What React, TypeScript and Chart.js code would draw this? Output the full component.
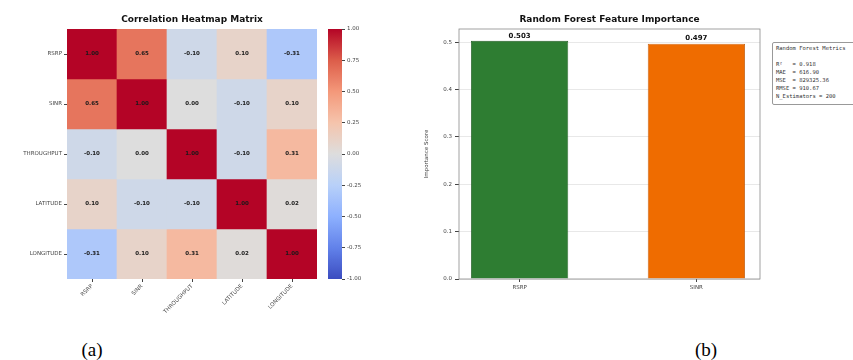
import React, { useEffect, useRef } from "react";
import { Chart, registerables } from "chart.js";
Chart.register(...registerables);

// ---------- DATA ----------
const features = ["RSRP", "SINR", "THROUGHPUT", "LATITUDE", "LONGITUDE"];
const corrRSRP = [1.0, 0.65, -0.1, 0.1, -0.31];
const corrSINR = [0.65, 1.0, 0.0, -0.1, 0.1];
const corrThroughput = [-0.1, 0.0, 1.0, -0.1, 0.31];
const corrLatitude = [0.1, -0.1, -0.1, 1.0, 0.02];
const corrLongitude = [-0.31, 0.1, 0.31, 0.02, 1.0];
const colorbarTicks = [-1, -0.75, -0.5, -0.25, 0, 0.25, 0.5, 0.75, 1];

const importanceFeatures = ["RSRP", "SINR"];
const importanceValues = [0.503, 0.497];
const importanceTicks = [0, 0.1, 0.2, 0.3, 0.4, 0.5];
const importanceColors = ["#2e7d32", "#ef6c00"];
const importanceEdges = ["#1f5a22", "#b85200"];

const metricsTitle = "Random Forest Metrics";
const metricsLines = ["R²   = 0.918", "MAE  = 616.90", "MSE  = 829325.36", "RMSE = 910.67", "N_Estimators = 200"];

const corrRows = [corrRSRP, corrSINR, corrThroughput, corrLatitude, corrLongitude];

// ---------- coolwarm colormap ----------
const cwStops = ["#3b4cc0", "#6282ea", "#8db0fe", "#b8d0f9", "#dddddd", "#f5c4ac", "#f4987a", "#dc5d4a", "#b40426"];
function hex(h: string) {
  return [parseInt(h.slice(1, 3), 16), parseInt(h.slice(3, 5), 16), parseInt(h.slice(5, 7), 16)];
}
function coolwarm(v: number) {
  const t = Math.max(0, Math.min(1, (v + 1) / 2)) * (cwStops.length - 1);
  const i = Math.min(cwStops.length - 2, Math.floor(t));
  const f = t - i;
  const a = hex(cwStops[i]);
  const b = hex(cwStops[i + 1]);
  const c = a.map((x, k) => Math.round(x + (b[k] - x) * f));
  return `rgb(${c[0]},${c[1]},${c[2]})`;
}

const FONT = "DejaVu Sans";
Chart.defaults.font.family = FONT;
Chart.defaults.color = "#333";

export default function App() {
  const heatRef = useRef<HTMLCanvasElement>(null);
  const cbarRef = useRef<HTMLCanvasElement>(null);
  const barRef = useRef<HTMLCanvasElement>(null);

  useEffect(() => {
    document.body.style.margin = "0";

    const cellText = {
      id: "cellText",
      afterDatasetsDraw(chart: any) {
        const ctx = chart.ctx;
        ctx.save();
        ctx.font = `bold 5.5px "${FONT}"`;
        ctx.fillStyle = "#1a1a1a";
        ctx.textAlign = "center";
        ctx.textBaseline = "middle";
        chart.data.datasets.forEach((_: any, i: number) => {
          const meta = chart.getDatasetMeta(i);
          meta.data.forEach((el: any, j: number) => {
            const p = el.getProps(["x", "y", "base"], true);
            ctx.fillText(corrRows[i][j].toFixed(2), p.x, (p.y + p.base) / 2);
          });
        });
        ctx.restore();
      },
    };

    const heat = new Chart(heatRef.current!, {
      type: "bar",
      data: {
        labels: features,
        datasets: corrRows.map((row, i) => ({
          data: row.map(() => [i, i + 1]) as any,
          backgroundColor: row.map((v) => coolwarm(v)),
          borderWidth: 0,
          barPercentage: 1,
          categoryPercentage: 1,
          grouped: false,
        })),
      },
      options: {
        responsive: false,
        animation: false,
        layout: { padding: { left: 0, right: 3, top: 0, bottom: 0 } },
        plugins: {
          legend: { display: false },
          tooltip: { enabled: false },
          title: {
            display: true,
            text: "Correlation Heatmap Matrix",
            fullSize: false,
            color: "#111",
            font: { size: 9, weight: "bold", family: FONT },
            padding: { top: 14, bottom: 4.2 },
          },
        },
        scales: {
          x: {
            type: "category",
            offset: true,
            grid: { drawOnChartArea: false, offset: false, tickLength: 3, color: "#444" },
            border: { display: false },
            ticks: { minRotation: 45, maxRotation: 45, autoSkip: false, font: { size: 5.5 }, color: "#444", padding: 1 },
            afterFit: (s: any) => {
              s.height = 51;
            },
          },
          y: {
            type: "linear",
            min: 0,
            max: features.length,
            reverse: true,
            afterBuildTicks: (s: any) => {
              s.ticks = features.map((_, i) => ({ value: i + 0.5 }));
            },
            grid: { drawOnChartArea: false, tickLength: 3, color: "#444" },
            border: { display: false },
            ticks: {
              autoSkip: false,
              font: { size: 5.5 },
              color: "#444",
              padding: 2,
              callback: (_v: any, idx: number) => features[idx],
            },
            afterFit: (s: any) => {
              s.width = 67;
            },
          },
        },
      },
      plugins: [cellText],
    });

    const cbar = new Chart(cbarRef.current!, {
      type: "bar",
      data: {
        labels: [""],
        datasets: [
          {
            data: [[colorbarTicks[0], colorbarTicks[colorbarTicks.length - 1]]] as any,
            backgroundColor: (ctx: any) => {
              const ca = ctx.chart.chartArea;
              if (!ca) return "#ddd";
              const g = ctx.chart.ctx.createLinearGradient(0, ca.bottom, 0, ca.top);
              for (let k = 0; k <= 40; k++) g.addColorStop(k / 40, coolwarm(-1 + (2 * k) / 40));
              return g;
            },
            borderWidth: 0,
            barPercentage: 1,
            categoryPercentage: 1,
          },
        ],
      },
      options: {
        responsive: false,
        animation: false,
        layout: { padding: { left: 3, right: 0, top: 29, bottom: 51 } },
        plugins: { legend: { display: false }, tooltip: { enabled: false } },
        scales: {
          x: { display: false },
          y: {
            position: "right",
            min: -1,
            max: 1,
            afterBuildTicks: (s: any) => {
              s.ticks = colorbarTicks.map((v) => ({ value: v }));
            },
            grid: { drawOnChartArea: false, tickLength: 3, color: "#444" },
            border: { display: false },
            ticks: { font: { size: 5.5 }, color: "#444", padding: 2, callback: (v: any) => Number(v).toFixed(2) },
            afterFit: (s: any) => {
              s.width = 40;
            },
          },
        },
      },
    });

    const valueLabels = {
      id: "valueLabels",
      afterDatasetsDraw(chart: any) {
        const ctx = chart.ctx;
        ctx.save();
        ctx.font = `bold 7px "${FONT}"`;
        ctx.fillStyle = "#111";
        ctx.textAlign = "center";
        ctx.textBaseline = "bottom";
        const meta = chart.getDatasetMeta(0);
        meta.data.forEach((el: any, j: number) => {
          const p = el.getProps(["x", "y"], true);
          ctx.fillText(importanceValues[j].toFixed(3), p.x, p.y - 1.5);
        });
        ctx.restore();
      },
    };
    const frame = {
      id: "frame",
      afterDraw(chart: any) {
        const { left, top, right, bottom } = chart.chartArea;
        const ctx = chart.ctx;
        ctx.save();
        ctx.strokeStyle = "#8a8a8a";
        ctx.lineWidth = 0.8;
        ctx.strokeRect(left, top, right - left, bottom - top);
        ctx.restore();
      },
    };

    const bar = new Chart(barRef.current!, {
      type: "bar",
      data: {
        datasets: [
          {
            data: importanceValues.map((v, i) => ({ x: i, y: v })),
            backgroundColor: importanceColors,
            borderColor: importanceEdges,
            borderWidth: 0.8,
            barPercentage: 0.55,
            categoryPercentage: 1,
          },
        ],
      },
      options: {
        responsive: false,
        animation: false,
        layout: { padding: { left: 0, right: 5, top: 0, bottom: 0 } },
        plugins: {
          legend: { display: false },
          tooltip: { enabled: false },
          title: {
            display: true,
            text: "Random Forest Feature Importance",
            fullSize: false,
            color: "#111",
            font: { size: 9, weight: "bold", family: FONT },
            padding: { top: 14, bottom: 4.2 },
          },
        },
        scales: {
          x: {
            type: "linear",
            offset: false,
            min: -0.343,
            max: 1.36,
            afterBuildTicks: (s: any) => {
              s.ticks = importanceFeatures.map((_, i) => ({ value: i }));
            },
            grid: { drawOnChartArea: false, offset: false, tickLength: 3, color: "#444" },
            border: { display: false },
            ticks: { font: { size: 5.5 }, color: "#444", padding: 2, callback: (_v: any, idx: number) => importanceFeatures[idx] },
            afterFit: (s: any) => {
              s.height = 51;
            },
          },
          y: {
            min: 0,
            max: 0.528,
            afterBuildTicks: (s: any) => {
              s.ticks = importanceTicks.map((v) => ({ value: v }));
            },
            grid: { color: "rgba(0,0,0,0.09)", tickLength: 4, tickColor: "#444" } as any,
            border: { display: false },
            title: { display: true, text: "Importance Score", font: { size: 5.5 }, color: "#444", padding: { top: 3, bottom: 2 } },
            ticks: { font: { size: 5.5 }, color: "#444", padding: 3, callback: (v: any) => Number(v).toFixed(1) },
            afterFit: (s: any) => {
              s.width = 39;
            },
          },
        },
      },
      plugins: [valueLabels, frame],
    });

    return () => {
      heat.destroy();
      cbar.destroy();
      bar.destroy();
    };
  }, []);

  return (
    <div style={{ position: "relative", width: 853, height: 360, overflow: "hidden", background: "#fff" }}>
      <canvas ref={heatRef} width={320} height={330} style={{ position: "absolute", left: 0, top: 0 }} />
      <canvas ref={cbarRef} width={57} height={330} style={{ position: "absolute", left: 325, top: 0 }} />
      <canvas ref={barRef} width={345} height={330} style={{ position: "absolute", left: 420, top: 0 }} />
      <div
        style={{
          position: "absolute",
          left: 772,
          top: 42,
          width: 95,
          height: 63,
          border: "1px solid #999",
          borderRadius: 2,
          background: "#fff",
          fontFamily: "DejaVu Sans Mono",
          fontSize: 5.5,
          lineHeight: "8px",
          color: "#333",
          padding: "1px 3px",
          boxSizing: "border-box",
          whiteSpace: "pre",
        }}
      >
        <div>{metricsTitle}</div>
        <div>&nbsp;</div>
        {metricsLines.map((l, i) => (
          <div key={i}>{l}</div>
        ))}
      </div>
      <div style={{ position: "absolute", left: 92, top: 350, transform: "translate(-50%,-50%)", fontFamily: "Liberation Serif", fontSize: 19, color: "#000" }}>
        (a)
      </div>
      <div style={{ position: "absolute", left: 706, top: 350, transform: "translate(-50%,-50%)", fontFamily: "Liberation Serif", fontSize: 19, color: "#000" }}>
        (b)
      </div>
    </div>
  );
}
